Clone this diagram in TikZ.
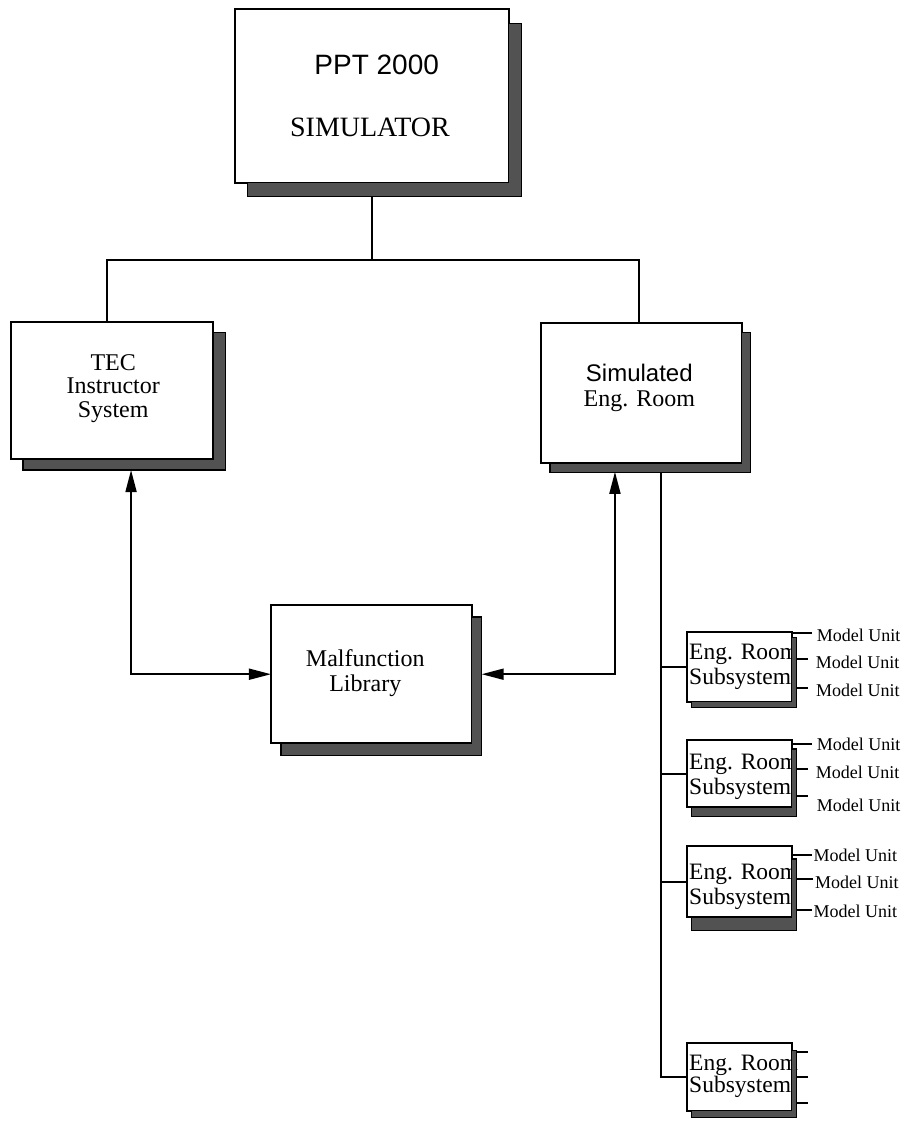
\documentclass[tikz,border=0pt]{standalone}
\usepackage{fontspec}
\setmainfont{Liberation Serif}
\setsansfont{Liberation Sans}
\usetikzlibrary{arrows.meta,calc}
\tikzset{
 box/.style={draw, fill=white, line width=1.8pt, inner sep=0pt, outer sep=0pt},
 subbox/.style={box, minimum width=105pt},
 shadefill/.style={draw=black, fill=black!68, line width=1.4pt},
 conn/.style={line width=1.8pt},
 dbl/.style={conn, {Triangle[length=22pt,width=11pt]}-{Triangle[length=22pt,width=11pt]}},
 lbl/.style={inner sep=0pt, align=center},
 mu/.style={inner sep=0pt, anchor=west, font=\fontsize{18}{20}\selectfont},
 subtxt/.style={inner sep=0pt, anchor=west, align=left, font=\fontsize{23.5}{25.5}\selectfont},
}
\newcommand\boxshade[3]{%
 \filldraw[shadefill] ($(#1.north east)+(0,#3)$) -- ($(#1.north east)+(#2,#3)$) -- ($(#1.south east)+(#2,#3)$) -- ($(#1.south west)+(#2,#3)$) -- ($(#1.south west)+(#2,0)$) -- (#1.south east) -- cycle;}
\newcommand\unitline[4]{%
 \draw[conn] ($(#1.west)+(-#3,#4)$) coordinate (tmp) -- (tmp -| #2.east);}
\begin{document}
\begin{tikzpicture}[x=1pt,y=-1pt]
\useasboundingbox (0,0) rectangle (907,1121);
% boxes
\node[box, minimum width=274pt, minimum height=173.4pt] (top) at (371.7,96) {};
\node[box, minimum width=202.3pt, minimum height=137.3pt] (tec) at (112.2,390.4) {};
\node[box, minimum width=200.7pt, minimum height=140pt] (sim) at (641.3,393.3) {};
\node[box, minimum width=200.7pt, minimum height=138.3pt] (mal) at (371.3,674.2) {};
\node[subbox, minimum height=70pt] (s1) at (739.2,666.7) {};
\node[subbox, minimum height=67.3pt] (s2) at (739.2,773.7) {};
\node[subbox, minimum height=71.3pt] (s3) at (739.2,881.7) {};
\node[subbox, minimum height=67.4pt] (s4) at (739.2,1077) {};
% connectors
\draw[conn] (top.south) -- ++(0,77.3) coordinate (hub);
\draw[conn] ($(tec.north)+(-5,0)$) |- (hub) -| ($(sim.north)+(-2,0)$);
\draw[dbl] ($(tec.south west)+(120,11)$) |- (mal.west);
\draw[dbl] ($(mal.east)+(10,0)$) -| ($(sim.south west)+(74,8.5)$);
\draw[conn] ($(sim.south west)+(120,8.5)$) coordinate (trunk) |- (s4.west);
\foreach \s in {s1,s2,s3} \draw[conn] (\s.west) -- (\s.west -| trunk);
% texts
\node[lbl, font=\sffamily\fontsize{28}{30}\selectfont] (t1) at ($(top.center)+(5,-31)$) {PPT 2000};
\node[lbl, font=\fontsize{28}{30}\selectfont] (t2) at ($(top.center)+(-1.7,31.7)$) {SIMULATOR};
\node[lbl, font=\fontsize{24}{23.5}\selectfont] (t3) at ($(tec.center)+(1,-2)$) {TEC\\Instructor\\System};
\node[lbl, font=\fontsize{24}{25.7}\selectfont] (t4) at ($(sim.center)+(-2,-5.5)$) {{\sffamily Simulated}\\Eng. Room};
\node[lbl, font=\fontsize{24}{25}\selectfont] (t5) at ($(mal.center)+(-6,-1)$) {Malfunction\\Library};
\node[subtxt] (st1) at ($(s1.west)+(2.3,0)$) {Eng. Room\\Subsystem};
\node[subtxt] (st2) at ($(s2.west)+(2.3,3)$) {Eng. Room\\Subsystem};
\node[subtxt] (st3) at ($(s3.west)+(2.3,5)$) {Eng. Room\\Subsystem};
\node[subtxt, font=\fontsize{23.5}{22}\selectfont] (st4) at ($(s4.west)+(2.3,-1)$) {Eng. Room\\Subsystem};
% model units
\node[mu] (m11) at (816.7,635) {Model Unit};
\node[mu] (m12) at (815.7,662.7) {Model Unit};
\node[mu] (m13) at (816,690.7) {Model Unit};
\node[mu] (m21) at (816.7,744) {Model Unit};
\node[mu] (m22) at (815.7,772) {Model Unit};
\node[mu] (m23) at (816.7,805) {Model Unit};
\node[mu] (m31) at (813.3,855) {Model Unit};
\node[mu] (m32) at (815,882.7) {Model Unit};
\node[mu] (m33) at (813.3,911) {Model Unit};
\unitline{m11}{s1}{5}{-1.7}
\unitline{m12}{s1}{7.7}{-3.4}
\unitline{m13}{s1}{8}{-2.4}
\unitline{m21}{s2}{5}{0}
\unitline{m22}{s2}{7.7}{-2.7}
\unitline{m23}{s2}{8.7}{-9}
\unitline{m31}{s3}{1.6}{0}
\unitline{m32}{s3}{1.7}{-3.4}
\unitline{m33}{s3}{1.6}{-1}
\coordinate (c41) at ($(s4.east)+(16.3,-24.7)$);
\coordinate (c42) at ($(s4.east)+(16.3,0.3)$);
\coordinate (c43) at ($(s4.east)+(16.3,26.3)$);
\foreach \c in {c41,c42,c43} \draw[conn] (\c) -- (\c -| s4.east);
% shadows
\boxshade{top}{13}{14}
\boxshade{tec}{12}{11}
\boxshade{sim}{9}{9}
\boxshade{mal}{10}{12}
\boxshade{s1}{5}{6}
\boxshade{s2}{5}{9}
\boxshade{s3}{5}{13}
\boxshade{s4}{5}{7}
\end{tikzpicture}
\end{document}
